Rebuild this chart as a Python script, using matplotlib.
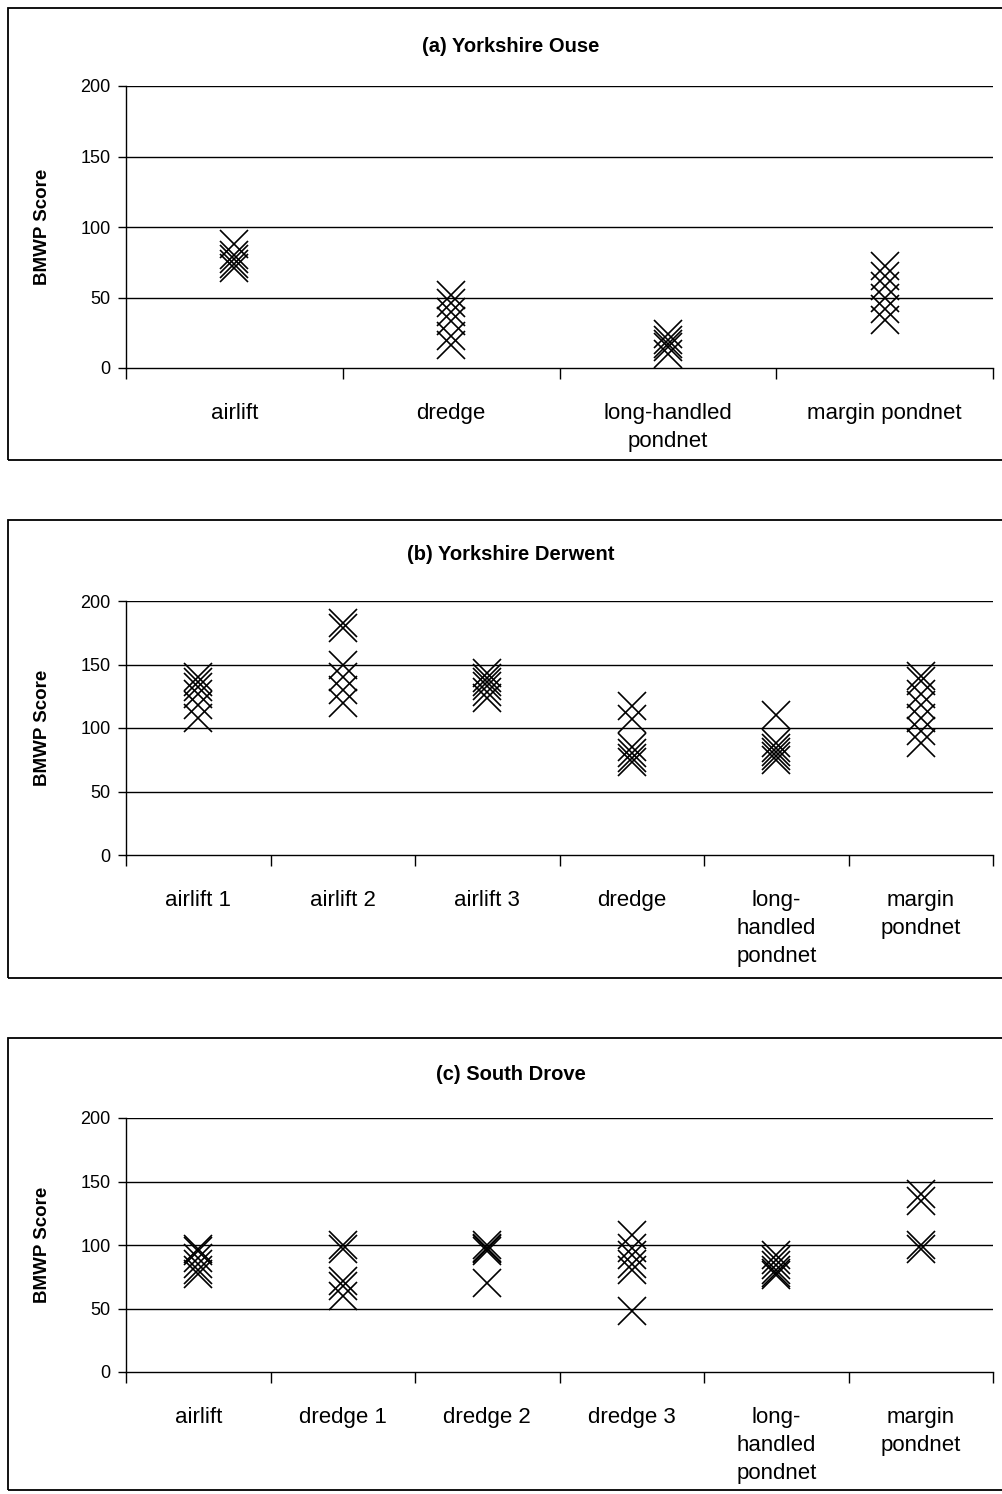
import matplotlib.pyplot as plt
import matplotlib.patches as patches
import numpy as np

plt.rcParams['font.family'] = ['Liberation Sans', 'DejaVu Sans']

# BMWP scores per sampling method, one list of replicate scores per category
ouse_cats = ["airlift", "dredge", "long-handled\npondnet", "margin pondnet"]
ouse_scores = [
    [88, 80, 77, 74, 71],
    [52, 46, 40, 33, 23, 16],
    [24, 20, 17, 15, 10],
    [72, 65, 58, 50, 42, 34],
]

derwent_cats = ["airlift 1", "airlift 2", "airlift 3", "dredge",
                "long-\nhandled\npondnet", "margin\npondnet"]
derwent_scores = [
    [140, 136, 132, 127, 118, 108],
    [183, 179, 150, 140, 130, 120],
    [143, 139, 136, 133, 128, 124],
    [117, 107, 85, 80, 76, 73],
    [110, 88, 84, 81, 78, 75],
    [141, 137, 127, 118, 108, 98, 88],
]

drove_cats = ["airlift", "dredge 1", "dredge 2", "dredge 3",
              "long-\nhandled\npondnet", "margin\npondnet"]
drove_scores = [
    [97, 95, 90, 85, 80, 77],
    [100, 97, 72, 68, 60],
    [100, 98, 97, 95, 70],
    [108, 98, 92, 85, 80, 48],
    [92, 88, 84, 80, 78, 76],
    [140, 135, 100, 97],
]

panels = [
    ("(a) Yorkshire Ouse", ouse_cats, ouse_scores),
    ("(b) Yorkshire Derwent", derwent_cats, derwent_scores),
    ("(c) South Drove", drove_cats, drove_scores),
]

W, H = 1003, 1494
fig = plt.figure(figsize=(W / 100, H / 100), dpi=100)

# pixel layout: (frame top, frame bottom, plot top, plot bottom, title y)
layout = [
    (8, 460, 86, 368, 47),
    (520, 978, 601, 855, 555),
    (1038, 1490, 1118, 1372, 1074),
]
px_left, px_right = 126, 993

for (title, cats, scores), (ft, fb, pt, pb, ty) in zip(panels, layout):
    fig.patches.append(patches.Rectangle(
        (8 / W, 1 - fb / H), 1.2, (fb - ft) / H, transform=fig.transFigure,
        fill=False, edgecolor='black', linewidth=1.3))
    fig.text(511 / W, 1 - ty / H, title, ha='center', va='center',
             fontsize=14.5, fontweight='bold')

    ax = fig.add_axes([px_left / W, 1 - pb / H, (px_right - px_left) / W, (pb - pt) / H])
    n = len(cats)
    for i, vals in enumerate(scores):
        ax.plot(np.full(len(vals), i + 0.5), vals, linestyle='none', marker='x',
                markersize=20, markeredgewidth=1.2, color='black', clip_on=False)

    ax.set_xlim(0, n)
    ax.set_ylim(0, 200)
    ax.set_yticks([0, 50, 100, 150, 200])
    for g in [50, 100, 150, 200]:
        ax.axhline(g, color='black', linewidth=1, zorder=0)
    ax.set_xticks(np.arange(n + 1))
    ax.set_xticklabels([])
    ax.set_xticks(np.arange(n) + 0.5, minor=True)
    ax.set_xticklabels(cats, minor=True, fontsize=16, linespacing=1.45)
    ax.tick_params(axis='x', which='major', length=8, width=1, direction='out')
    ax.tick_params(axis='x', which='minor', length=0, pad=25)
    ax.tick_params(axis='y', length=6, width=1, labelsize=13, pad=5)
    for s in ['top', 'right']:
        ax.spines[s].set_visible(False)
    ax.spines['left'].set_linewidth(1)
    ax.spines['bottom'].set_linewidth(1)
    ax.set_ylabel("BMWP Score", fontsize=13.5, fontweight='bold', labelpad=21)

fig.savefig("out.png", dpi=100)
